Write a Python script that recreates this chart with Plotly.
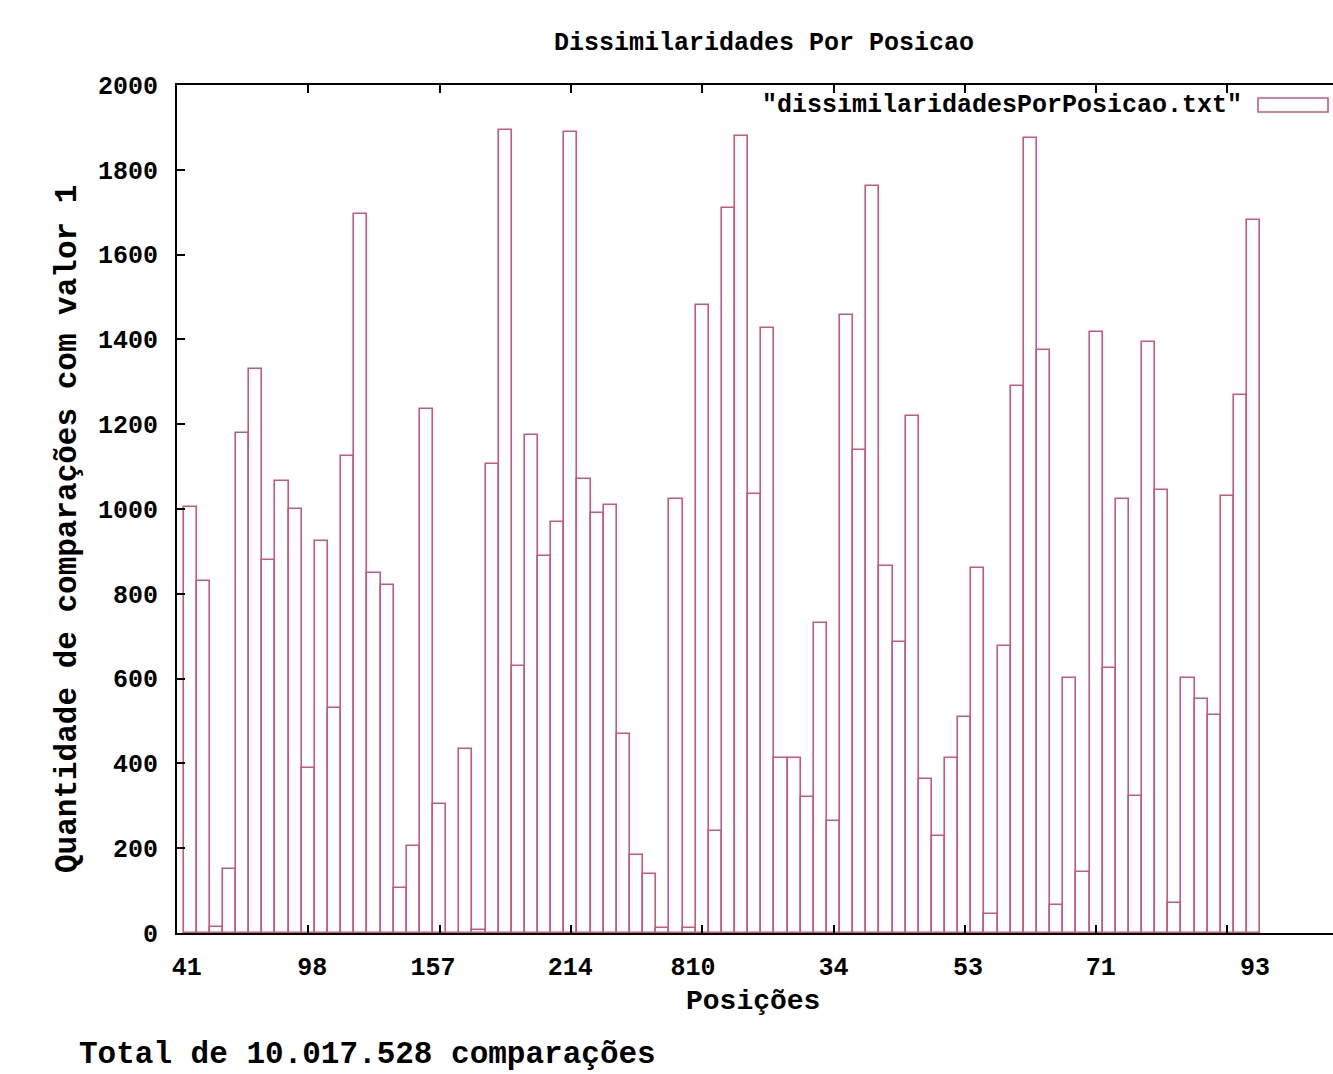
import plotly.graph_objects as go

# ---- data ----
values = [1005, 830, 15, 150, 1180, 1330, 880, 1065, 1000, 390,
          925, 530, 1125, 1695, 850, 820, 105, 205, 1235, 305,
          0, 433, 6, 1105, 1895, 630, 1174, 890, 970, 1889,
          1070, 990, 1010, 470, 185, 139, 11, 1024, 11, 1482,
          240, 1711, 1880, 1036, 1428, 413, 413, 320, 731, 264,
          1458, 1140, 1761, 865, 686, 1220, 364, 229, 413, 510,
          861, 45, 676, 1289, 1876, 1374, 65, 601, 145, 1417,
          626, 1024, 323, 1393, 1045, 70, 601, 553, 513, 1030,
          1269, 1681]
positions = list(range(1, len(values) + 1))

tick_labels = ["41", "98", "157", "214", "810", "34", "53", "71", "93"]
tick_label_pos = [0.75, 10.3, 19.5, 29.95, 39.3, 50.0, 60.25, 70.35, 82.1]
tick_marks = [10, 20, 30, 40, 50, 60, 70, 80]
y_ticks = list(range(0, 2001, 200))

series_name = '"dissimilaridadesPorPosicao.txt"'
title_text = "Dissimilaridades Por Posicao"
x_title = "Posições"
y_title = "Quantidade de comparações com valor 1"
footer_text = "Total de 10.017.528 comparações"

PINK = "#c9587f"
FONT = "Liberation Mono"

W, H = 1333, 1074
L, R, T, B = 177, 0, 85, 141
plot_w = W - L - R
px_per_unit = 13.13
x_max = plot_w / px_per_unit

fig = go.Figure()
fig.add_trace(go.Bar(
    x=positions, y=values, width=1.0, name=series_name,
    marker=dict(color="rgba(255,255,255,0)", line=dict(color=PINK, width=1.6)),
    showlegend=False, xaxis="x", yaxis="y",
))
# invisible trace on the label axis so it is drawn
fig.add_trace(go.Scatter(x=[positions[0]], y=[0], mode="markers",
                         marker=dict(opacity=0), showlegend=False,
                         hoverinfo="skip", xaxis="x2", yaxis="y"))

axis_font = dict(family=FONT, size=25, color="black", weight="bold")

fig.update_layout(
    width=W, height=H,
    margin=dict(l=L, r=R, t=T, b=B),
    paper_bgcolor="white", plot_bgcolor="white",
    bargap=0,
    xaxis=dict(range=[0, x_max], tickmode="array", tickvals=tick_marks,
               ticks="inside", ticklen=8, tickwidth=2, tickcolor="black",
               showticklabels=False, showgrid=False, zeroline=False,
               showline=True, linecolor="black", linewidth=2,
               mirror="allticks"),
    xaxis2=dict(range=[0, x_max], overlaying="x", side="bottom", anchor="y",
                tickmode="array", tickvals=tick_label_pos, ticktext=tick_labels,
                ticks="", showgrid=False, zeroline=False, showline=False,
                tickfont=axis_font, ticklabelstandoff=16),
    yaxis=dict(range=[0, 2000], tickmode="array", tickvals=y_ticks,
               ticks="inside", ticklen=8, tickwidth=2, tickcolor="black",
               tickfont=axis_font, ticklabelstandoff=12,
               showgrid=False, zeroline=False,
               showline=True, linecolor="black", linewidth=2, mirror=False),
    showlegend=False,
)

def px_x(p):
    return (p - L) / plot_w

def px_y(p):
    return (H - B - p) / (H - T - B)

ann = [
    dict(text=title_text, x=px_x(764), y=px_y(44), size=25),
    dict(text=x_title, x=px_x(753), y=px_y(1001), size=28),
    dict(text=footer_text, x=px_x(367), y=px_y(1054), size=31),
]
for a in ann:
    fig.add_annotation(text=a["text"], xref="paper", yref="paper",
                       x=a["x"], y=a["y"], xanchor="center", yanchor="middle",
                       showarrow=False,
                       font=dict(family=FONT, size=a["size"], color="black", weight="bold"))

fig.add_annotation(text=y_title, xref="paper", yref="paper",
                   x=px_x(67), y=px_y(529), xanchor="center", yanchor="middle",
                   textangle=-90, showarrow=False,
                   font=dict(family=FONT, size=31, color="black", weight="bold"))

# legend (key text + sample box)
fig.add_annotation(text=series_name, xref="paper", yref="paper",
                   x=px_x(1244), y=px_y(105), xanchor="right", yanchor="middle",
                   showarrow=False,
                   font=dict(family=FONT, size=25, color="black", weight="bold"))
fig.add_shape(type="rect", xref="paper", yref="paper",
              x0=px_x(1258), x1=px_x(1328), y0=px_y(112), y1=px_y(98),
              line=dict(color=PINK, width=1.6), fillcolor="rgba(0,0,0,0)")

fig.write_html(
    "out.html",
    config={"displayModeBar": False},
    post_script="document.body.style.margin='0';document.body.style.overflow='hidden';",
)
